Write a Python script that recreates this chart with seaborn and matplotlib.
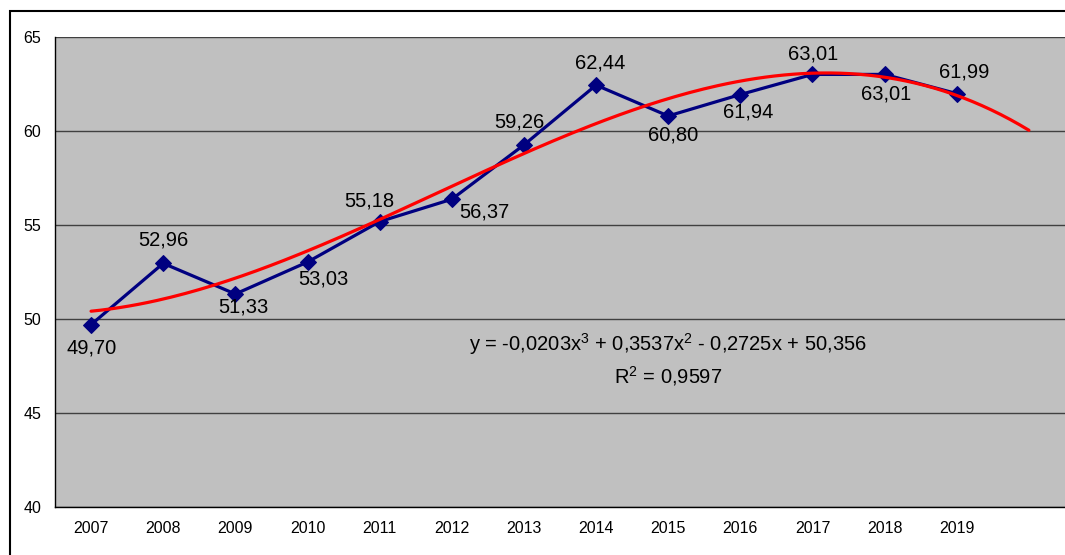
import numpy as np
import pandas as pd
import matplotlib
matplotlib.use("Agg")
import matplotlib.pyplot as plt
from matplotlib.patches import Rectangle
import seaborn as sns

# data
years = ['2007', '2008', '2009', '2010', '2011', '2012', '2013',
         '2014', '2015', '2016', '2017', '2018', '2019']
values = [49.70, 52.96, 51.33, 53.03, 55.18, 56.37, 59.26,
          62.44, 60.80, 61.94, 63.01, 63.01, 61.99]
# label offsets in pixels (dx, dy) for each data label
label_offsets = [(1, -23), (0, 23), (8, -13), (16, -17), (-10, 21), (33, -13), (-5, 23),
                 (4, 22), (5, -19), (8, -17), (1, 20), (1, -20), (7, 22)]
eq_text = "y = -0,0203x$^3$ + 0,3537x$^2$ - 0,2725x + 50,356"
r2_text = "R$^2$ = 0,9597"

sns.set_style("white")
plt.rcParams['font.family'] = ['Liberation Sans', 'DejaVu Sans']
plt.rcParams['mathtext.fontset'] = 'custom'
plt.rcParams['mathtext.rm'] = 'Liberation Sans'
plt.rcParams['mathtext.default'] = 'regular'
plt.rcParams['text.color'] = 'black'
plt.rcParams['xtick.color'] = 'black'
plt.rcParams['ytick.color'] = 'black'

df = pd.DataFrame({'pos': np.arange(len(years)), 'value': values})

# 3rd order polynomial trend, Excel style x = 1..n, forecast one period forward
n = len(values)
coef = np.polyfit(np.arange(1, n + 1), values, 3)
trend_x = np.linspace(1, n + 1, 200)
trend = pd.DataFrame({'pos': trend_x - 1, 'value': np.polyval(coef, trend_x)})

fig = plt.figure(figsize=(10.65, 5.55), dpi=100)
ax = fig.add_axes([55 / 1065, 48 / 555, 1 - 55 / 1065, 470 / 555])
ax.set_facecolor('#C0C0C0')

sns.lineplot(data=df, x='pos', y='value', ax=ax, color='#000080', lw=2.3,
             marker='D', markersize=8, markeredgecolor='#000080', zorder=3)
sns.lineplot(data=trend, x='pos', y='value', ax=ax, color='#FF0000', lw=2.3, zorder=4)

for i, v in enumerate(values):
    dx, dy = label_offsets[i]
    ax.annotate(f"{v:.2f}".replace('.', ','), (i, v), xytext=(dx, dy),
                textcoords='offset pixels', ha='center', va='center',
                fontsize=14.5, color='black')

ax.text(8.0, 48.67, eq_text, ha='center', va='center', fontsize=14.5, color='black')
ax.text(8.0, 46.97, r2_text, ha='center', va='center', fontsize=14.5, color='black')

ax.set_xlim(-0.5, n + 0.5)
ax.set_ylim(40, 65)
ax.set_yticks([40, 45, 50, 55, 60, 65])
ax.yaxis.grid(True, color='#404040', lw=1)
ax.set_axisbelow(True)

ax.set_xticks(np.arange(-0.5, n + 1, 1))
ax.set_xticklabels([])
ax.set_xticks(np.arange(n + 1), labels=years + [''], minor=True)
ax.tick_params(axis='x', which='minor', length=0, pad=10, labelsize=11.5, labelcolor='black')
ax.tick_params(axis='x', which='major', length=5, width=1, color='black', direction='out')
ax.tick_params(axis='y', length=5, width=1, color='black', direction='out',
               labelsize=11.5, pad=5, labelcolor='black')
ax.set_xlabel('')
ax.set_ylabel('')

for side in ['top', 'right']:
    ax.spines[side].set_visible(False)
for side in ['left', 'bottom']:
    ax.spines[side].set_color('black')
    ax.spines[side].set_linewidth(1)

# outer chart border
fig.patches.append(Rectangle((9.5 / 1065, -0.5), 2, 1.5 - 10.5 / 555,
                             transform=fig.transFigure, fill=False,
                             ec='black', lw=1.5))

fig.savefig('out.png', dpi=100)
